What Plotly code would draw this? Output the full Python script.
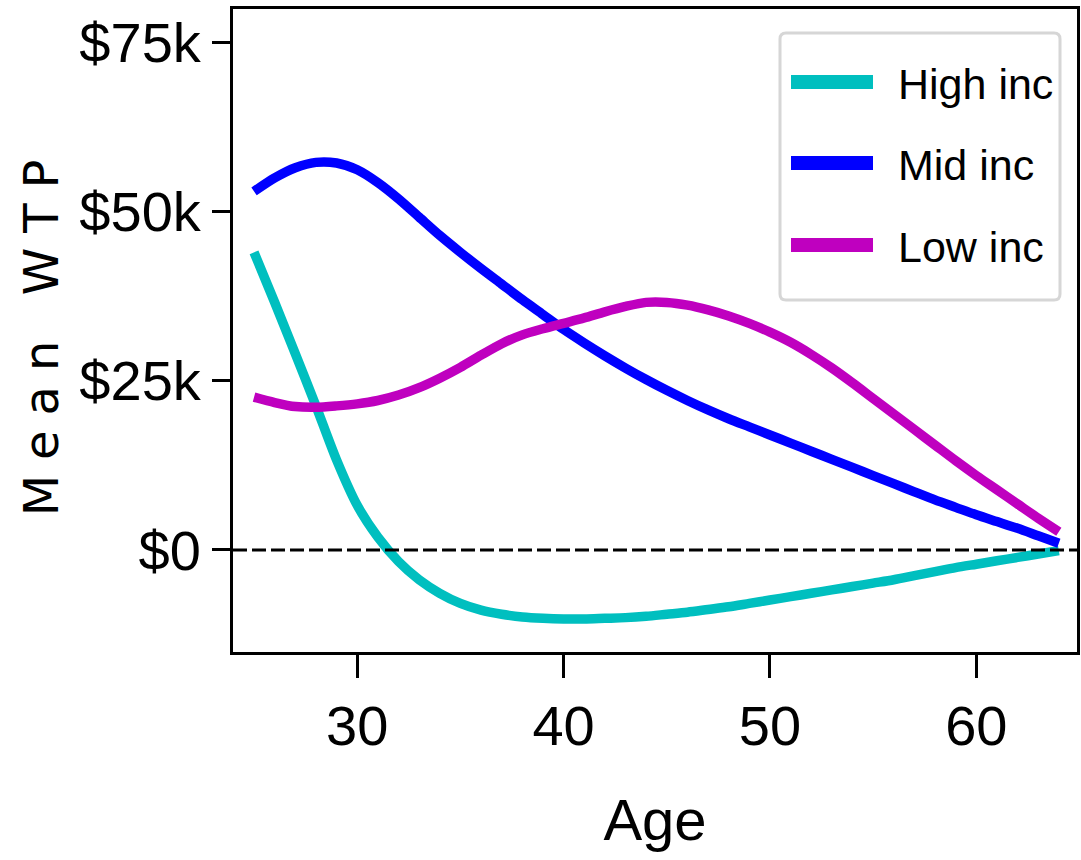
import plotly.graph_objects as go

# Mean willingness-to-pay (thousands of dollars) by age and income group
ages = list(range(25, 65))

high_inc = [44.0, 36.6, 29.0, 21.3, 13.3, 6.6, 1.9, -1.7, -4.4, -6.4,
            -7.9, -8.9, -9.5, -9.9, -10.1, -10.2, -10.2, -10.1, -10.0, -9.8,
            -9.5, -9.2, -8.8, -8.4, -7.9, -7.4, -6.9, -6.4, -5.9, -5.4,
            -4.9, -4.4, -3.8, -3.2, -2.6, -2.1, -1.6, -1.1, -0.6, -0.1]

mid_inc = [53.0, 55.0, 56.5, 57.3, 57.2, 56.2, 54.3, 51.9, 49.2, 46.5,
           44.0, 41.6, 39.3, 37.0, 34.8, 32.6, 30.6, 28.7, 26.9, 25.2,
           23.6, 22.1, 20.7, 19.4, 18.2, 17.0, 15.8, 14.6, 13.4, 12.2,
           11.0, 9.8, 8.6, 7.4, 6.3, 5.2, 4.2, 3.2, 2.1, 1.0]

low_inc = [22.6, 21.8, 21.2, 21.1, 21.3, 21.6, 22.1, 22.9, 24.0, 25.4,
           27.0, 28.8, 30.5, 31.8, 32.7, 33.5, 34.3, 35.2, 36.0, 36.6,
           36.6, 36.2, 35.5, 34.6, 33.5, 32.2, 30.7, 28.9, 26.9, 24.7,
           22.4, 20.1, 17.8, 15.5, 13.2, 11.0, 8.9, 6.8, 4.7, 2.7]

series_names = ["High inc", "Mid inc", "Low inc"]
series_values = [high_inc, mid_inc, low_inc]
series_colors = ["#00bfbf", "#0000ff", "#bf00bf"]

x_tick_vals = [30, 40, 50, 60]
y_tick_vals = [0, 25, 50, 75]
y_tick_text = ["$0", "$25k", "$50k", "$75k"]

# Page geometry (pixels)
W, H = 1081, 860
PLOT_L, PLOT_R, PLOT_T, PLOT_B = 233, 1077, 9, 652

NARROW = "Liberation Sans, Arial, sans-serif"
WIDE = "DejaVu Sans, Verdana, sans-serif"


def paper_x(px):
    return (px - PLOT_L) / (PLOT_R - PLOT_L)


def paper_y(py):
    return (PLOT_B - py) / (PLOT_B - PLOT_T)


fig = go.Figure()

for name, vals, color in zip(series_names, series_values, series_colors):
    fig.add_trace(go.Scatter(
        x=ages, y=vals, name=name, mode="lines",
        line=dict(color=color, width=9.5, shape="spline", smoothing=0.8),
        showlegend=False,
    ))

# Zero reference line
fig.add_shape(type="line", xref="paper", yref="y", x0=0, x1=1, y0=0, y1=0,
              line=dict(color="black", width=3, dash="14px,5px"))

# Legend panel
lx0, lx1 = paper_x(780), paper_x(1060)
ly0, ly1 = paper_y(300), paper_y(33)
rx = 6 / (PLOT_R - PLOT_L)
ry = 6 / (PLOT_B - PLOT_T)
frame = (f"M{lx0 + rx},{ly1} L{lx1 - rx},{ly1} Q{lx1},{ly1} {lx1},{ly1 - ry} "
         f"L{lx1},{ly0 + ry} Q{lx1},{ly0} {lx1 - rx},{ly0} "
         f"L{lx0 + rx},{ly0} Q{lx0},{ly0} {lx0},{ly0 + ry} "
         f"L{lx0},{ly1 - ry} Q{lx0},{ly1} {lx0 + rx},{ly1} Z")
fig.add_shape(type="path", xref="paper", yref="paper", path=frame,
              line=dict(color="#d6d6d6", width=3), fillcolor="white")

row_y = [82, 163, 245]
for name, color, ry_px in zip(series_names, series_colors, row_y):
    fig.add_shape(type="line", xref="paper", yref="paper",
                  x0=paper_x(791), x1=paper_x(873),
                  y0=paper_y(ry_px), y1=paper_y(ry_px),
                  line=dict(color=color, width=14))
    fig.add_annotation(xref="paper", yref="paper", x=paper_x(896), y=paper_y(ry_px + 2),
                       text=name, showarrow=False, xanchor="left", yanchor="middle",
                       font=dict(family=NARROW, size=43, color="black"))

fig.update_layout(
    width=W, height=H,
    margin=dict(l=PLOT_L, r=W - PLOT_R, t=PLOT_T, b=H - PLOT_B, autoexpand=False),
    paper_bgcolor="white", plot_bgcolor="white",
    showlegend=False,
)

fig.update_xaxes(
    range=[23.98, 64.88], tickvals=x_tick_vals,
    ticks="outside", ticklen=23, tickwidth=3, tickcolor="black",
    showline=True, mirror=True, linewidth=3, linecolor="black",
    showgrid=False, zeroline=False,
    tickfont=dict(family=NARROW, size=56, color="black"),
    title=dict(text="Age", font=dict(family=NARROW, size=58, color="black"), standoff=44),
)

fig.update_yaxes(
    range=[-15.08, 79.97], tickvals=y_tick_vals, ticktext=y_tick_text,
    ticks="outside", ticklen=18, tickwidth=3, tickcolor="black",
    showline=True, mirror=True, linewidth=3, linecolor="black",
    showgrid=False, zeroline=False,
    tickfont=dict(family=NARROW, size=56, color="black"),
    title=dict(text='<span style="letter-spacing:15px">Mean WTP</span>',
               font=dict(family=WIDE, size=48, color="black"), standoff=6),
)

fig.write_html("out.html")
